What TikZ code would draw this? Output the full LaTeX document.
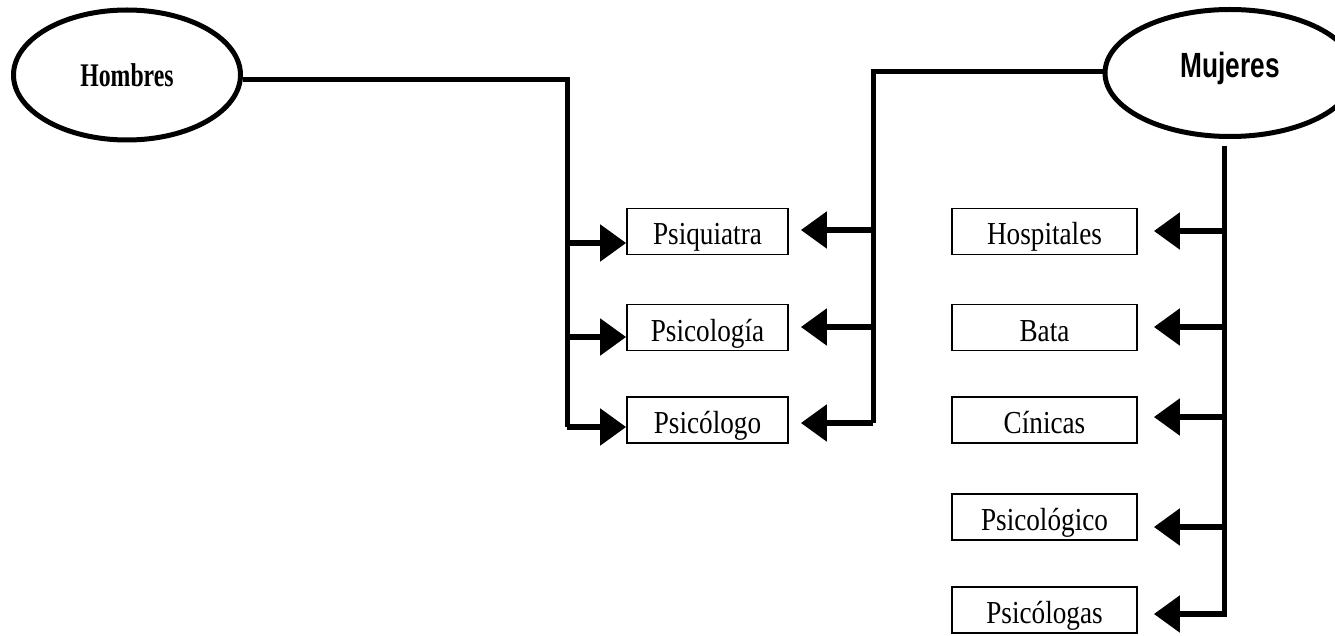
\documentclass[tikz,border=0pt]{standalone}
\usepackage{fontspec}
\usetikzlibrary{arrows.meta,shapes.geometric}
\newfontfamily\boxfont[FakeStretch=0.85]{Liberation Serif}
\newfontfamily\homfont[FakeStretch=0.72]{Liberation Serif}
\newfontfamily\mujfont[FakeStretch=0.75]{Liberation Sans}
\begin{document}
\begin{tikzpicture}[x=1pt,y=-1pt,
  oval/.style={ellipse,draw,line width=5pt,inner sep=0pt},
  item/.style={draw,line width=1.8pt,inner sep=0pt,minimum width=#1,minimum height=46pt,
    text height=30pt,text depth=3pt,
    font=\boxfont\fontsize{32}{34}\selectfont},
  item/.default=161pt,
  trunk/.style={line width=5pt},
  arr/.style={line width=5.5pt,-{Triangle[length=26pt,width=36pt]}}]
\useasboundingbox (0,0) rectangle (1335,636);
\fill[white] (0,0) rectangle (1335,636);

% the two groups
\node[oval,minimum width=227pt,minimum height=130pt,font=\homfont\bfseries\fontsize{33}{35}\selectfont] (hom) at (127,75) {Hombres};
\node[oval,minimum width=250pt,minimum height=127pt] (muj) at (1230,73) {};
\node[font=\mujfont\bfseries\fontsize{35}{37}\selectfont,inner sep=0pt] (mujlab) at (1230,68) {Mujeres};

% middle column
\node[item] (psiq) at (707.5,231.5) {Psiquiatra};
\node[item] (pslg) at (707.5,327.5) {Psicología};
\node[item] (pslo) at (707.5,420) {Psicólogo};

% right column
\node[item=185pt] (hosp) at (1044.5,231.5) {Hospitales};
\node[item=185pt] (bata) at (1044.5,327.5) {Bata};
\node[item=185pt] (clin) at (1044.5,420) {Cínicas};
\node[item=185pt] (pgco) at (1044.5,517) {Psicológico};
\node[item=185pt] (pgas) at (1044.5,610) {Psicólogas};

% trunk points
\coordinate (lt) at (567,80);
\coordinate (lb) at (567,427);
\coordinate (mt) at (873,72);
\coordinate (mb) at (873,423);
\coordinate (rt) at (1224,146);
\coordinate (rb) at (1224,614);

% Hombres trunk and branches
\draw[trunk] (hom.east |- lt) -- (lt) -- (lb);
\draw[arr] (567,243) -- (psiq.west |- 0,243);
\draw[arr] (567,337) -- (pslg.west |- 0,337);
\draw[arr] (lb) -- (pslo.west |- lb);

% Mujeres trunk to the middle column
\draw[trunk] (muj.west |- mt) -- (mt) -- (mb);
\draw[arr] (873,230) -- ([xshift=12pt]psiq.east |- 0,230);
\draw[arr] (873,327) -- ([xshift=12pt]pslg.east |- 0,327);
\draw[arr] (mb) -- ([xshift=12pt]pslo.east |- mb);

% Mujeres trunk to the right column
\draw[trunk] (rt) -- (rb);
\draw[arr] (1224,231) -- ([xshift=16pt]hosp.east |- 0,231);
\draw[arr] (1224,327) -- ([xshift=16pt]bata.east |- 0,327);
\draw[arr] (1224,417) -- ([xshift=16pt]clin.east |- 0,417);
\draw[arr] (1224,527) -- ([xshift=16pt]pgco.east |- 0,527);
\draw[arr] ([xshift=2.5pt]rb) -- ([xshift=16pt]pgas.east |- rb);
\end{tikzpicture}
\end{document}
